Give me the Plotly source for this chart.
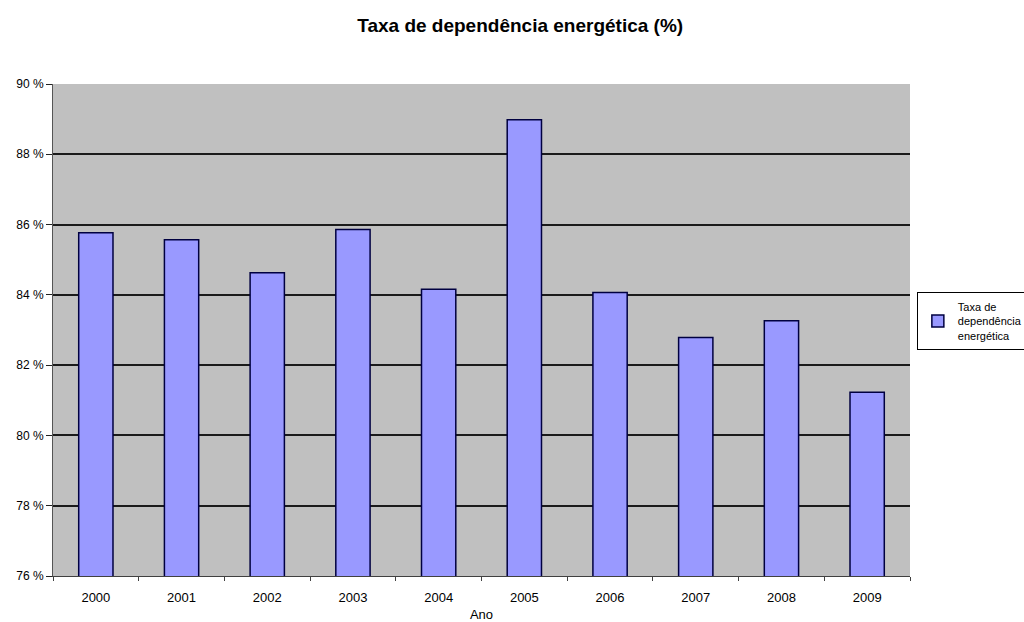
import plotly.graph_objects as go

anos = ["2000", "2001", "2002", "2003", "2004", "2005", "2006", "2007", "2008", "2009"]
taxa = [85.77, 85.57, 84.63, 85.86, 84.16, 88.98, 84.07, 82.79, 83.26, 81.23]
y_ticks = [76, 78, 80, 82, 84, 86, 88, 90]
y_tick_labels = [f"{v} %" for v in y_ticks]

FONT = "Liberation Sans, Arial, sans-serif"

fig = go.Figure()
fig.add_trace(go.Bar(
    x=anos, y=taxa,
    name="Taxa de<br>dependência<br>energética",
    marker=dict(color="#9999FF", line=dict(color="#000040", width=1.5)),
    width=0.4,
    showlegend=True,
))

fig.update_layout(
    width=1024, height=622,
    margin=dict(l=53, r=114, t=84, b=46, autoexpand=False),
    paper_bgcolor="white",
    plot_bgcolor="#C0C0C0",
    font=dict(family=FONT, size=13, color="black"),
    title=dict(text="<b>Taxa de dependência energética (%)</b>",
               x=0.508, xanchor="center", xref="container",
               y=0.96, yanchor="middle",
               font=dict(family=FONT, size=19, color="black")),
    showlegend=True,
    legend=dict(x=1.008, xanchor="left", y=0.577, yanchor="top",
                bgcolor="white", bordercolor="black", borderwidth=1,
                font=dict(family=FONT, size=11, color="black"), itemwidth=30,
                tracegroupgap=0),
    bargap=0.6,
)

fig.update_xaxes(
    type="category",
    showgrid=False,
    tickson="boundaries",
    ticks="outside", ticklen=4, tickcolor="#404040",
    showline=True, linecolor="#404040", linewidth=1,
    tickfont=dict(family=FONT, size=13, color="black"),
    ticklabelstandoff=9,
    title=dict(text="Ano", font=dict(family=FONT, size=13, color="black"), standoff=8),
)
fig.update_yaxes(
    range=[76, 90],
    tickvals=y_ticks, ticktext=y_tick_labels,
    showgrid=True, gridcolor="#1a1a1a", gridwidth=1.5,
    ticks="outside", ticklen=6, tickcolor="#222222",
    showline=True, linecolor="#555555", linewidth=1,
    tickfont=dict(family=FONT, size=12, color="black"),
    zeroline=False,
)

fig.write_html("out.html")
